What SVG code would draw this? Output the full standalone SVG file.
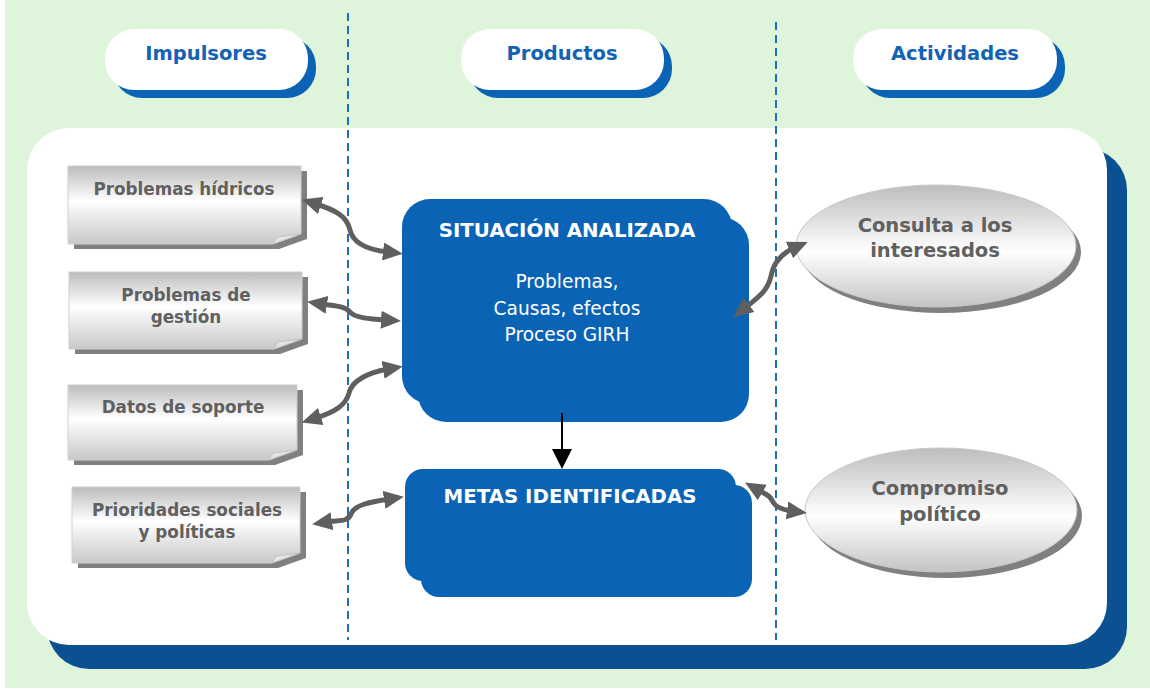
<svg xmlns="http://www.w3.org/2000/svg" width="1150" height="689" viewBox="0 0 1150 689">
<defs>
<linearGradient id="gBox" x1="0" y1="0" x2="0" y2="1">
<stop offset="0" stop-color="#BCBCBC"/>
<stop offset="0.45" stop-color="#FFFFFF"/>
<stop offset="1" stop-color="#C8C8C8"/>
</linearGradient>
<linearGradient id="gEll" x1="0" y1="0" x2="0" y2="1">
<stop offset="0" stop-color="#BDBDBD"/>
<stop offset="0.55" stop-color="#FFFFFF"/>
<stop offset="1" stop-color="#C4C4C4"/>
</linearGradient>
<marker id="ah" viewBox="0 0 20 18" refX="5" refY="9" markerWidth="20" markerHeight="18" markerUnits="userSpaceOnUse" orient="auto-start-reverse">
<path d="M0,0 L20,9 L0,18 z" fill="#5F5F5F"/>
</marker>
<style>
.hdr{fill:#fff}
.hdrsh{fill:#0B63B5}
.htxt{font-family:"DejaVu Sans",Verdana,sans-serif;font-weight:bold;font-size:19.5px;fill:#1262B5;text-anchor:middle}
.box{fill:url(#gBox);stroke:#CFCFCF;stroke-width:1}
.boxsh{fill:#808080}
.fold{fill:#E4E4E4;stroke:#BBBBBB;stroke-width:0.8}
.gtxt{font-family:"DejaVu Sans",Verdana,sans-serif;font-weight:bold;font-size:16.8px;fill:#606060;text-anchor:middle}
.etxt{font-family:"DejaVu Sans",Verdana,sans-serif;font-weight:bold;font-size:19.5px;fill:#606060;text-anchor:middle}
.blue{fill:#0B63B5}
.btitle{font-family:"DejaVu Sans",Verdana,sans-serif;font-weight:bold;font-size:19.8px;fill:#fff;text-anchor:middle}
.bbody{font-family:"DejaVu Sans",Verdana,sans-serif;font-size:18.6px;fill:#fff;text-anchor:middle}
.ell{fill:url(#gEll);stroke:#C8C8C8;stroke-width:1}
.ellsh{fill:#808080}
.conn{fill:none;stroke:#5F5F5F;stroke-width:5;marker-start:url(#ah);marker-end:url(#ah)}
.dash{stroke:#1B6EC2;stroke-width:2;stroke-dasharray:8 5}
</style>
</defs>

<rect x="0" y="0" width="1150" height="689" fill="#FFFFFF"/>
<rect x="5" y="0" width="1145" height="688" fill="#DFF5DB"/>

<g id="panel">
<rect x="47" y="148" width="1080" height="521" rx="42" fill="#0B5090"/>
<rect x="27" y="128" width="1080" height="517" rx="42" fill="#FFFFFF"/>
</g>

<g id="dividers">
<line class="dash" x1="348" y1="13" x2="348" y2="640"/>
<line class="dash" x1="776" y1="22" x2="776" y2="640"/>
</g>

<g id="hdr-impulsores">
<rect class="hdrsh" x="113" y="37" width="203" height="61" rx="29"/>
<rect class="hdr" x="105" y="29" width="203" height="61" rx="29"/>
<text class="htxt" x="206" y="60">Impulsores</text>
</g>
<g id="hdr-productos">
<rect class="hdrsh" x="469" y="37" width="203" height="61" rx="29"/>
<rect class="hdr" x="461" y="29" width="203" height="61" rx="29"/>
<text class="htxt" x="562" y="60">Productos</text>
</g>
<g id="hdr-actividades">
<rect class="hdrsh" x="861" y="37" width="204" height="61" rx="29"/>
<rect class="hdr" x="853" y="29" width="204" height="61" rx="29"/>
<text class="htxt" x="955" y="60">Actividades</text>
</g>

<g id="n-problemas-hidricos">
<polygon class="boxsh" points="74,171 307,171 307,239 279,249 74,249"/>
<polygon class="box" points="68,166 301,166 301,234 273,244 68,244"/>
<polygon class="fold" points="273,244 301,234 277,237"/>
<text class="gtxt" x="184" y="195">Problemas hídricos</text>
</g>
<g id="n-problemas-gestion">
<polygon class="boxsh" points="75,277 308,277 308,344 280,354 75,354"/>
<polygon class="box" points="69,272 302,272 302,339 274,349 69,349"/>
<polygon class="fold" points="274,349 302,339 278,342"/>
<text class="gtxt" x="186" y="301">Problemas de</text>
<text class="gtxt" x="186" y="323">gestión</text>
</g>
<g id="n-datos-soporte">
<polygon class="boxsh" points="74,390 303,390 303,455 275,465 74,465"/>
<polygon class="box" points="68,385 297,385 297,450 269,460 68,460"/>
<polygon class="fold" points="269,460 297,450 273,453"/>
<text class="gtxt" x="183" y="413">Datos de soporte</text>
</g>
<g id="n-prioridades">
<polygon class="boxsh" points="78,492 306,492 306,558 278,568 78,568"/>
<polygon class="box" points="72,487 300,487 300,553 272,563 72,563"/>
<polygon class="fold" points="272,563 300,553 276,556"/>
<text class="gtxt" x="187" y="516">Prioridades sociales</text>
<text class="gtxt" x="187" y="538">y políticas</text>
</g>

<g id="n-situacion">
<rect class="blue" x="418" y="217" width="331" height="205" rx="28"/>
<rect class="blue" x="402" y="199" width="330" height="205" rx="28"/>
<text class="btitle" x="567" y="237">SITUACIÓN ANALIZADA</text>
<text class="bbody" x="567" y="288">Problemas,</text>
<text class="bbody" x="567" y="315">Causas, efectos</text>
<text class="bbody" x="567" y="341">Proceso GIRH</text>
</g>
<g id="n-metas">
<rect class="blue" x="421" y="485" width="331" height="112" rx="18"/>
<rect class="blue" x="405" y="469" width="331" height="112" rx="18"/>
<text class="btitle" x="570" y="503">METAS IDENTIFICADAS</text>
</g>

<g id="n-consulta">
<ellipse class="ellsh" cx="941" cy="252" rx="140" ry="61"/>
<ellipse class="ell" cx="936" cy="246" rx="140" ry="61"/>
<text class="etxt" x="935" y="232">Consulta a los</text>
<text class="etxt" x="935" y="257">interesados</text>
</g>
<g id="n-compromiso">
<ellipse class="ellsh" cx="946" cy="516" rx="136" ry="62"/>
<ellipse class="ell" cx="941" cy="510" rx="136" ry="62"/>
<text class="etxt" x="940" y="495">Compromiso</text>
<text class="etxt" x="940" y="521">político</text>
</g>

<g id="connectors">
<path class="conn" d="M316,204 C335,210 347,216 350,230 C353,244 370,250 388,252"/>
<path class="conn" d="M322,304 C335,306 345,306 350,312 C355,318 370,319 386,320"/>
<path class="conn" d="M316,418 C335,412 346,405 349,393 C352,380 370,372 388,369"/>
<path class="conn" d="M327,522 C340,520 348,522 351,514 C354,505 370,502 389,499"/>
<path class="conn" d="M745,308 C760,296 768,290 771,276 C774,260 785,252 794,248"/>
<path class="conn" d="M758,490 C765,494 770,495 773,502 C776,508 785,510 792,511"/>
<line x1="562" y1="413" x2="562" y2="450" stroke="#000" stroke-width="2"/>
<polygon points="552,449 572,449 562,469" fill="#000"/>
</g>
</svg>
